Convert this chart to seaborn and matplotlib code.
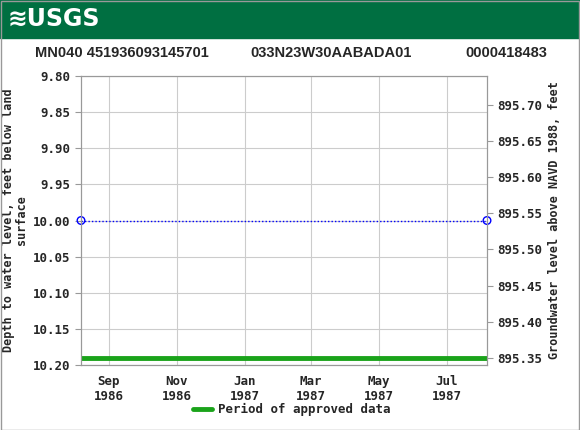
import matplotlib
matplotlib.use("Agg")
import matplotlib.pyplot as plt
import seaborn as sns
import pandas as pd

dates = pd.to_datetime(["1986-08-07", "1987-08-06"])
depth = [10.00, 10.00]
approved_start = "1986-08-07"
approved_end = "1987-08-06"
approved_level = 10.19
tick_dates = pd.to_datetime(["1986-09-01", "1986-11-01", "1987-01-01", "1987-03-01", "1987-05-01", "1987-07-01"])
tick_labels = ["Sep\n1986", "Nov\n1986", "Jan\n1987", "Mar\n1987", "May\n1987", "Jul\n1987"]
left_ticks = [9.80, 9.85, 9.90, 9.95, 10.00, 10.05, 10.10, 10.15, 10.20]
datum_offset = 905.54
right_ticks = [895.35, 895.40, 895.45, 895.50, 895.55, 895.60, 895.65, 895.70]

sns.set_style("white")
mono = "DejaVu Sans Mono"
fig = plt.figure(figsize=(5.8, 4.3), dpi=100)
ax = fig.add_axes([81/580, 1-365/430, (487-81)/580, (365-76)/430])

fig.patches.append(plt.Rectangle((0, 1-38/430), 1, 38/430, transform=fig.transFigure,
                                 color="#006f41", zorder=0))
fig.text(8/580, 1-19/430, "≋USGS", color="white", fontsize=17, fontweight="bold",
         va="center", family="DejaVu Sans")
for x, t in [(35, "MN040 451936093145701"), (250, "033N23W30AABADA01"), (465, "0000418483")]:
    fig.text(x/580, 1-53/430, t, fontsize=10.5, fontweight="bold", va="center",
             family="Liberation Sans", stretch="condensed")

df = pd.DataFrame({"date": dates, "depth": depth})
sns.lineplot(data=df, x="date", y="depth", ax=ax, color="blue", linestyle=(0, (1, 1.5)), linewidth=1)
ax.scatter(df["date"], df["depth"], s=30, facecolors="none", edgecolors="blue", zorder=5, clip_on=False)
ax.plot(pd.to_datetime([approved_start, approved_end]), [approved_level]*2, color="#1aa31a", linewidth=3.5)

ax.set_xlim(pd.Timestamp(approved_start), pd.Timestamp(approved_end))
ax.set_ylim(10.20, 9.80)
ax.set_yticks(left_ticks)
ax.set_yticklabels([f"{v:.2f}" for v in left_ticks], family=mono, fontsize=9, fontweight="bold")
ax.set_xticks(tick_dates)
ax.set_xticklabels(tick_labels, family=mono, fontsize=9, fontweight="bold")
ax.set_xlabel("")
ax.grid(True, color="#cccccc", linewidth=0.8)
for s in ax.spines.values():
    s.set_color("#999999")
ax.tick_params(length=4, color="#999999")
ax.set_ylabel("Depth to water level, feet below land\nsurface", family=mono, fontsize=8.5,
              fontweight="bold", linespacing=0.95)

ax2 = ax.twinx()
ax2.set_ylim(datum_offset-10.20, datum_offset-9.80)
ax2.set_yticks(right_ticks)
ax2.set_yticklabels([f"{v:.2f}" for v in right_ticks], family=mono, fontsize=9, fontweight="bold")
ax2.set_ylabel("Groundwater level above NAVD 1988, feet", family=mono, fontsize=8.5, fontweight="bold")
ax2.tick_params(length=4, color="#999999")
for s in ax2.spines.values():
    s.set_color("#999999")

fig.lines.append(plt.Line2D([193/580, 212/580], [1-409/430]*2, transform=fig.transFigure,
                            color="#1aa31a", linewidth=3.5))
fig.text(218/580, 1-409/430, "Period of approved data", family=mono, fontsize=9,
         fontweight="bold", va="center")
fig.patches.append(plt.Rectangle((0.001, 0.001), 0.997, 0.997, transform=fig.transFigure,
                                 fill=False, edgecolor="#999999", linewidth=1))
fig.savefig("out.png", dpi=100)
